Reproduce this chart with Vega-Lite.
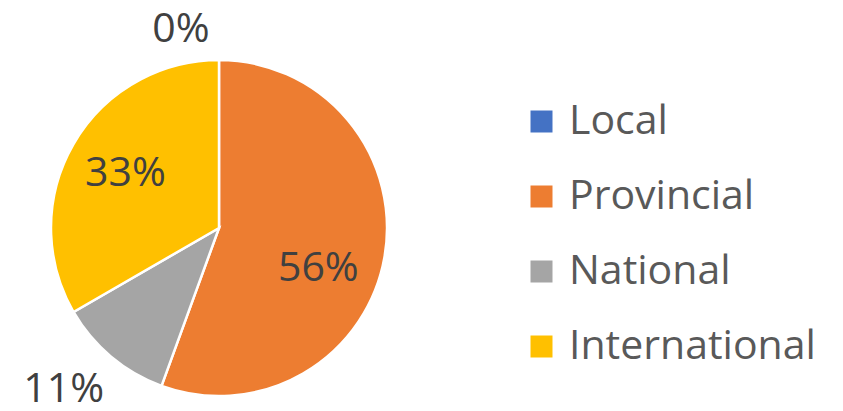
{
  "$schema": "https://vega.github.io/schema/vega-lite/v6.json",
  "width": 438,
  "height": 366,
  "autosize": "none",
  "padding": {"left": 0, "top": 45, "right": 405, "bottom": 0},
  "background": "white",
  "config": {"view": {"stroke": null}, "font": "Open Sans"},
  "data": {
    "values": [
      {"cat": "Local", "value": 0, "label": "0%", "ord": 1},
      {"cat": "Provincial", "value": 5, "label": "56%", "ord": 2},
      {"cat": "National", "value": 1, "label": "11%", "ord": 3},
      {"cat": "International", "value": 3, "label": "33%", "ord": 4}
    ]
  },
  "encoding": {
    "theta": {"field": "value", "type": "quantitative", "stack": true},
    "order": {"field": "ord", "type": "quantitative"}
  },
  "layer": [
    {
      "mark": {"type": "arc", "outerRadius": 168, "stroke": "white", "strokeWidth": 2.5},
      "encoding": {
        "color": {
          "field": "cat",
          "type": "nominal",
          "scale": {
            "domain": ["Local", "Provincial", "National", "International"],
            "range": ["#4472C4", "#ED7D31", "#A5A5A5", "#FFC000"]
          },
          "legend": {
            "title": null,
            "orient": "none",
            "legendX": 521,
            "legendY": 56,
            "symbolType": "square",
            "symbolSize": 484,
            "symbolStrokeWidth": 0,
            "labelFont": "Open Sans",
            "labelFontSize": 41,
            "labelColor": "#595959",
            "labelOffset": 7,
            "rowPadding": 33,
            "labelLimit": 400
          }
        }
      }
    },
    {
      "mark": {"type": "text", "radius": 108, "font": "Open Sans", "fontSize": 41, "color": "#404040"},
      "encoding": {
        "text": {"condition": {"test": "datum.value >= 3 && datum.value < 5", "field": "label"}, "value": ""}
      }
    },
    {
      "mark": {"type": "text", "radius": 107, "dy": 22, "dx": -6, "font": "Open Sans", "fontSize": 41, "color": "#404040"},
      "encoding": {
        "text": {"condition": {"test": "datum.value >= 5", "field": "label"}, "value": ""}
      }
    },
    {
      "mark": {"type": "text", "radius": 212, "dx": -19, "font": "Open Sans", "fontSize": 41, "color": "#404040"},
      "encoding": {
        "text": {"condition": {"test": "datum.value > 0 && datum.value < 3", "field": "label"}, "value": ""}
      }
    },
    {
      "mark": {"type": "text", "radius": 198, "dx": -38, "font": "Open Sans", "fontSize": 41, "color": "#404040"},
      "encoding": {
        "text": {"condition": {"test": "datum.value == 0", "field": "label"}, "value": ""}
      }
    }
  ]
}
